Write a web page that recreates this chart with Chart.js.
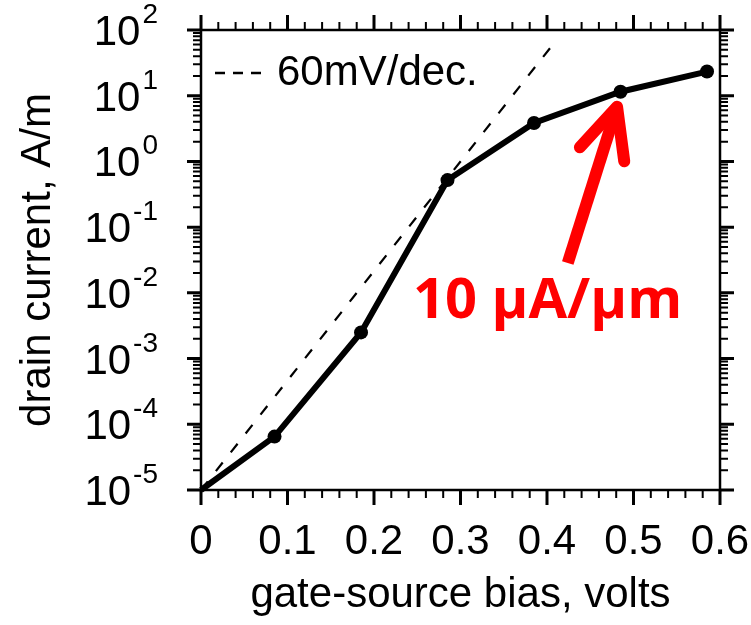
<!DOCTYPE html>
<html>
<head>
<meta charset="utf-8">
<script src="https://cdn.jsdelivr.net/npm/chart.js@4.4.1/dist/chart.umd.min.js"></script>
<style>
  html, body { margin: 0; padding: 0; background: #fff; }
  #wrap { width: 751px; height: 625px; }
</style>
</head>
<body>
<div id="wrap"><canvas id="ivChart" width="751" height="625"></canvas></div>
<script>
// gate-source bias (V) and drain current (A/m)
const vgs = [0, 0.085, 0.185, 0.285, 0.385, 0.485, 0.585];
const drainCurrent = [1e-5, 6.5e-5, 2.5e-3, 0.52, 3.85, 11.5, 23.3];
const markerRadius = [0, 7, 7, 7, 7, 7, 7];

// 60 mV/decade reference line
const slopeVgs = [0, 0.408];
const slopeCurrent = [1e-5, 63];

// tick labels
const xTicks = [0, 0.1, 0.2, 0.3, 0.4, 0.5, 0.6];
const yExponents = [-5, -4, -3, -2, -1, 0, 1, 2];

// red annotation (data units): arrow tail, arrow tip, label anchor
const arrowTail = [0.424, 0.0285];
const arrowTip = [0.481, 6.8];
const noteAt = [0.245, 4.2e-3];
const noteText = '10 \u00b5A/\u00b5m';

const FONT = '"Liberation Sans", Arial, sans-serif';

const framePlugin = {
  id: 'frame',
  afterDraw(chart) {
    const { ctx, chartArea: a, scales: { x, y } } = chart;
    ctx.save();
    ctx.strokeStyle = '#000';
    ctx.lineWidth = 2.5;
    ctx.strokeRect(a.left, a.top, a.right - a.left, a.bottom - a.top);

    // x ticks, top and bottom, pointing out
    for (let i = 0; i <= 30; i++) {
      const px = x.getPixelForValue(i * 0.02);
      const len = i % 5 === 0 ? 15 : 8;
      ctx.lineWidth = i % 5 === 0 ? 3 : 2;
      ctx.beginPath();
      ctx.moveTo(px, a.bottom); ctx.lineTo(px, a.bottom + len);
      ctx.moveTo(px, a.top); ctx.lineTo(px, a.top - len);
      ctx.stroke();
    }

    // y ticks, left and right (log decades + 2..9 minors)
    yExponents.forEach(e => {
      const steps = e < yExponents[yExponents.length - 1] ? 9 : 1;
      for (let m = 1; m <= steps; m++) {
        const py = y.getPixelForValue(m * Math.pow(10, e));
        const len = m === 1 ? 14 : 8;
        ctx.lineWidth = m === 1 ? 3 : 2;
        ctx.beginPath();
        ctx.moveTo(a.left, py); ctx.lineTo(a.left - len, py);
        ctx.moveTo(a.right, py); ctx.lineTo(a.right + len, py);
        ctx.stroke();
      }
    });

    // y tick labels as 10^n
    ctx.fillStyle = '#000';
    ctx.textBaseline = 'alphabetic';
    yExponents.forEach(e => {
      const py = y.getPixelForValue(Math.pow(10, e));
      const expStr = String(e);
      ctx.font = '28px ' + FONT;
      const ew = ctx.measureText(expStr).width;
      const right = 158;
      ctx.textAlign = 'left';
      ctx.fillText(expStr, right - ew, py - 7);
      ctx.font = '42px ' + FONT;
      ctx.textAlign = 'right';
      ctx.fillText('10', right - ew - 2, py + 15);
    });

    // legend for the dashed line
    ctx.lineWidth = 2.5;
    ctx.setLineDash([10, 8]);
    ctx.beginPath();
    ctx.moveTo(a.left + 14, a.top + 43);
    ctx.lineTo(a.left + 62, a.top + 43);
    ctx.stroke();
    ctx.setLineDash([]);
    ctx.font = '42px ' + FONT;
    ctx.textAlign = 'left';
    ctx.fillText('60mV/dec.', a.left + 76, a.top + 55);

    // red arrow and label
    const tx = x.getPixelForValue(arrowTail[0]), ty = y.getPixelForValue(arrowTail[1]);
    const hx = x.getPixelForValue(arrowTip[0]), hy = y.getPixelForValue(arrowTip[1]);
    const ang = Math.atan2(ty - hy, tx - hx);
    const wing = 55, spread = 25 * Math.PI / 180;
    ctx.strokeStyle = '#ff0000';
    ctx.lineWidth = 12;
    ctx.lineCap = 'butt';
    ctx.beginPath();
    ctx.moveTo(tx, ty);
    ctx.lineTo(hx + 6 * Math.cos(ang), hy + 6 * Math.sin(ang));
    ctx.stroke();
    ctx.lineCap = 'round';
    ctx.lineJoin = 'round';
    ctx.beginPath();
    ctx.moveTo(hx + wing * Math.cos(ang + spread), hy + wing * Math.sin(ang + spread));
    ctx.lineTo(hx, hy);
    ctx.lineTo(hx + wing * Math.cos(ang - spread), hy + wing * Math.sin(ang - spread));
    ctx.stroke();

    ctx.fillStyle = '#ff0000';
    ctx.font = 'bold 56px "Open Sans", sans-serif';
    ctx.textAlign = 'left';
    ctx.fillText(noteText, x.getPixelForValue(noteAt[0]), y.getPixelForValue(noteAt[1]));
    ctx.restore();
  }
};

new Chart(document.getElementById('ivChart'), {
  type: 'scatter',
  data: {
    datasets: [
      {
        data: vgs.map((v, i) => ({ x: v, y: drainCurrent[i] })),
        showLine: true,
        borderColor: '#000',
        borderWidth: 6,
        pointRadius: markerRadius,
        pointBackgroundColor: '#000',
        pointBorderWidth: 0,
        clip: false
      },
      {
        data: slopeVgs.map((v, i) => ({ x: v, y: slopeCurrent[i] })),
        showLine: true,
        borderColor: '#000',
        borderWidth: 2.2,
        borderDash: [11, 13],
        pointRadius: 0,
        clip: false
      }
    ]
  },
  options: {
    responsive: false,
    animation: false,
    layout: { padding: { top: 30, right: 31, left: 0, bottom: 0 } },
    plugins: { legend: { display: false }, tooltip: { enabled: false } },
    scales: {
      x: {
        type: 'linear',
        min: 0,
        max: 0.6,
        afterBuildTicks: s => { s.ticks = xTicks.map(v => ({ value: v })); },
        afterFit: s => { s.height = 135; s.paddingLeft = 0; s.paddingRight = 0; },
        grid: { display: false, drawTicks: false },
        border: { display: false },
        ticks: {
          padding: 27,
          color: '#000',
          font: { family: FONT, size: 42 },
          maxRotation: 0,
          callback: v => (v === 0 ? '0' : v.toFixed(1))
        },
        title: {
          display: true,
          text: 'gate-source bias, volts',
          color: '#000',
          font: { family: FONT, size: 42 },
          padding: { top: 0, bottom: 4 }
        }
      },
      y: {
        type: 'logarithmic',
        min: 1e-5,
        max: 1e2,
        afterFit: s => { s.width = 201; s.paddingTop = 0; s.paddingBottom = 0; },
        grid: { display: false, drawTicks: false },
        border: { display: false },
        ticks: { display: false },
        title: {
          display: true,
          text: 'drain current, A/m',
          color: '#000',
          font: { family: FONT, size: 42 },
          padding: { top: 13, bottom: 0 }
        }
      }
    }
  },
  plugins: [framePlugin]
});
</script>
</body>
</html>
